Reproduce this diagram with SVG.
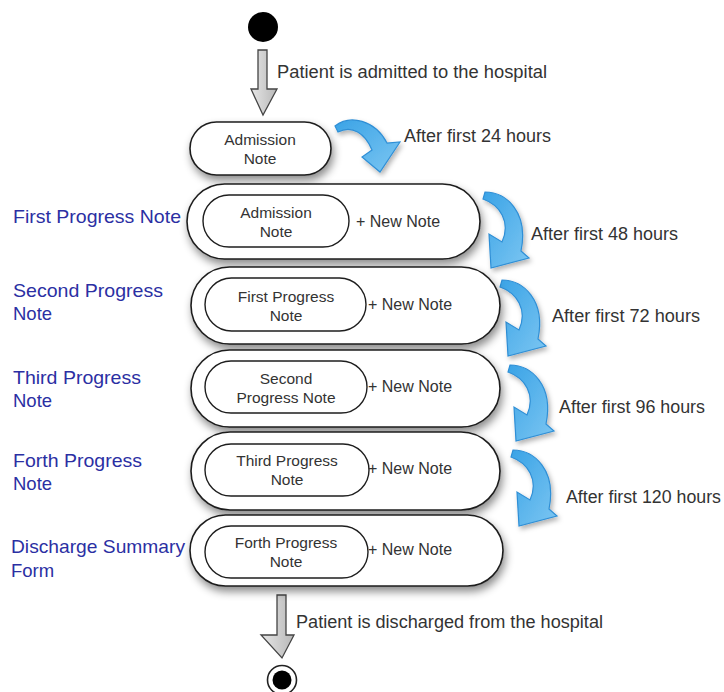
<svg xmlns="http://www.w3.org/2000/svg" width="724" height="692" viewBox="0 0 724 692">
<defs>
<filter id="sh" x="-20%" y="-30%" width="140%" height="170%">
<feDropShadow dx="2" dy="5" stdDeviation="4" flood-color="#000" flood-opacity="0.45"/>
</filter>
<filter id="shb" x="-30%" y="-30%" width="160%" height="160%">
<feDropShadow dx="2" dy="3" stdDeviation="2.5" flood-color="#000" flood-opacity="0.3"/>
</filter>
<linearGradient id="gray" x1="0" y1="0" x2="1" y2="0">
<stop offset="0" stop-color="#e6e6e6"/>
<stop offset="1" stop-color="#b8b8b8"/>
</linearGradient>
<linearGradient id="blue" x1="0" y1="0" x2="1" y2="1">
<stop offset="0" stop-color="#3aa3e6"/>
<stop offset="1" stop-color="#7cc6f2"/>
</linearGradient>
<path id="curl" d="M 485 192 C 506 192 529 212 521 251 L 529 258 L 491 268 L 489 234 L 502 242 C 511 222 500 205 483 199 Z"/>
</defs>
<style>
.pill{fill:#fff;stroke:#1e1e1e;stroke-width:1.6}
.inner{fill:#fff;stroke:#1e1e1e;stroke-width:1.4}
.bt{font-family:"Liberation Sans",Arial,sans-serif;font-size:15.5px;fill:#333;text-anchor:middle}
.nn{font-family:"Liberation Sans",Arial,sans-serif;font-size:16px;fill:#333}
.lb{font-family:"Liberation Sans",Arial,sans-serif;font-size:17.5px;fill:#333}
.side{font-family:"Liberation Sans",Arial,sans-serif;font-size:18.5px;fill:#2b2fa3}
.hollow{fill:url(#gray);stroke:#444;stroke-width:1.3}
.curl{fill:url(#blue);stroke:#2f8fd6;stroke-width:1.2;filter:url(#shb)}
</style>
<rect width="724" height="692" fill="#fff"/>

<g id="start"><circle cx="263" cy="27" r="15" fill="#000"/></g>

<g id="connectors">
<path class="hollow" d="M 258 50 L 267 50 L 267 89 L 277 89 L 263 115 L 251 89 L 258 89 Z"/>
<path class="hollow" d="M 277 595 L 286 595 L 286 635 L 294 635 L 282 658 L 261 635 L 277 635 Z"/>
<path class="curl" d="M 335 126 C 350 114 375 120 387 143 L 400 142 L 380 172 L 362 157 L 372 150 C 365 133 352 125 338 132 Z"/>
<use href="#curl" class="curl"/>
<use href="#curl" class="curl" transform="translate(17 88)"/>
<use href="#curl" class="curl" transform="translate(25 173)"/>
<use href="#curl" class="curl" transform="translate(28 258)"/>
<text class="lb" x="277" y="78" textLength="270" lengthAdjust="spacingAndGlyphs">Patient is admitted to the hospital</text>
<text class="lb" x="404" y="142" textLength="147" lengthAdjust="spacingAndGlyphs">After first 24 hours</text>
<text class="lb" x="531" y="240" textLength="147" lengthAdjust="spacingAndGlyphs">After first 48 hours</text>
<text class="lb" x="552" y="322" textLength="148" lengthAdjust="spacingAndGlyphs">After first 72 hours</text>
<text class="lb" x="559" y="413" textLength="146" lengthAdjust="spacingAndGlyphs">After first 96 hours</text>
<text class="lb" x="566" y="503" textLength="155" lengthAdjust="spacingAndGlyphs">After first 120 hours</text>
<text class="lb" x="296" y="628" textLength="307" lengthAdjust="spacingAndGlyphs">Patient is discharged from the hospital</text>
</g>

<g id="admission" filter="url(#sh)">
<rect class="pill" x="190" y="122" width="141" height="53" rx="26.5"/>
</g>
<text class="bt" x="260" y="145">Admission</text>
<text class="bt" x="260" y="164">Note</text>

<g id="first">
<rect class="pill" x="187" y="184" width="293" height="75" rx="37.5" filter="url(#sh)"/>
<rect class="inner" x="203" y="195" width="146" height="52" rx="26"/>
<text class="bt" x="276" y="218">Admission</text>
<text class="bt" x="276" y="237">Note</text>
<text class="nn" x="356" y="227">+ New Note</text>
<text class="side" x="13" y="223" textLength="168" lengthAdjust="spacingAndGlyphs">First Progress Note</text>
</g>

<g id="second">
<rect class="pill" x="191" y="267" width="309" height="77" rx="38.5" filter="url(#sh)"/>
<rect class="inner" x="205" y="278" width="161" height="53" rx="26.5"/>
<text class="bt" x="286" y="302">First Progress</text>
<text class="bt" x="286" y="321">Note</text>
<text class="nn" x="368" y="310">+ New Note</text>
<text class="side" x="13" y="297" textLength="150" lengthAdjust="spacingAndGlyphs">Second Progress</text>
<text class="side" x="13" y="320">Note</text>
</g>

<g id="third">
<rect class="pill" x="191" y="350" width="309" height="77" rx="38.5" filter="url(#sh)"/>
<rect class="inner" x="205" y="361" width="162" height="52" rx="26"/>
<text class="bt" x="286" y="384">Second</text>
<text class="bt" x="286" y="403">Progress Note</text>
<text class="nn" x="368" y="392">+ New Note</text>
<text class="side" x="13" y="384" textLength="128" lengthAdjust="spacingAndGlyphs">Third Progress</text>
<text class="side" x="13" y="407">Note</text>
</g>

<g id="forth">
<rect class="pill" x="191" y="432" width="309" height="78" rx="39" filter="url(#sh)"/>
<rect class="inner" x="205" y="444" width="164" height="52" rx="26"/>
<text class="bt" x="287" y="466">Third Progress</text>
<text class="bt" x="287" y="485">Note</text>
<text class="nn" x="368" y="474">+ New Note</text>
<text class="side" x="13" y="467" textLength="129" lengthAdjust="spacingAndGlyphs">Forth Progress</text>
<text class="side" x="13" y="490">Note</text>
</g>

<g id="discharge">
<rect class="pill" x="190" y="515" width="313" height="71" rx="35.5" filter="url(#sh)"/>
<rect class="inner" x="205" y="526" width="163" height="52" rx="26"/>
<text class="bt" x="286" y="548">Forth Progress</text>
<text class="bt" x="286" y="567">Note</text>
<text class="nn" x="368" y="555">+ New Note</text>
<text class="side" x="11" y="553" textLength="174" lengthAdjust="spacingAndGlyphs">Discharge Summary</text>
<text class="side" x="11" y="577">Form</text>
</g>

<g id="end">
<circle cx="282" cy="680" r="14.5" fill="#fff" stroke="#222" stroke-width="1.6"/>
<circle cx="282" cy="680" r="9.5" fill="#000"/>
</g>
</svg>
